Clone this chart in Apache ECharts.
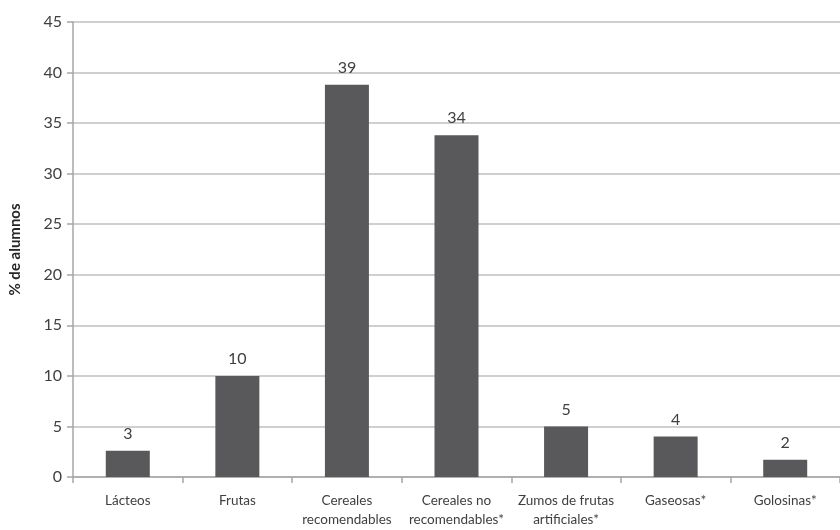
<!DOCTYPE html>
<html>
<head>
<meta charset="utf-8">
<script src="https://cdn.jsdelivr.net/npm/echarts@6/dist/echarts.min.js"></script>
<style>
  html, body { margin: 0; padding: 0; background: #fff; }
  #chart { width: 840px; height: 530px; }
</style>
</head>
<body>
<div id="chart"></div>
<script>
// datos
var categorias = ['Lácteos', 'Frutas', 'Cereales\nrecomendables', 'Cereales no\nrecomendables*', 'Zumos de frutas\nartificiales*', 'Gaseosas*', 'Golosinas*'];
var valores = [2.6, 10, 38.8, 33.8, 5, 4, 1.7];
var etiquetas = ['3', '10', '39', '34', '5', '4', '2'];
var ticksY = [0, 5, 10, 15, 20, 25, 30, 35, 40, 45];

window.onload = function() {
    draw_chart();
}

function draw_chart() {
    var myChart = echarts.init(document.getElementById('chart'));
    var fuente = 'Lato, "Open Sans", sans-serif';
    var option = {
        animation: false,
        grid: { left: 70, top: 22, width: 778, height: 455 },
        xAxis: {
            type: 'category',
            data: categorias,
            axisLine: { lineStyle: { color: '#a6a6a6', width: 1.5 } },
            axisTick: { show: true, length: 6, lineStyle: { color: '#a6a6a6', width: 1.5 } },
            axisLabel: {
                color: '#404040', fontSize: 13.5, fontFamily: fuente,
                margin: 14, lineHeight: 19, interval: 0
            }
        },
        yAxis: {
            type: 'value',
            min: ticksY[0],
            max: ticksY[ticksY.length - 1],
            interval: 5,
            name: '% de alumnos',
            nameLocation: 'middle',
            nameGap: 50,
            nameTextStyle: { color: '#262626', fontSize: 15, fontWeight: 'bold', fontFamily: fuente },
            axisLine: { show: true, lineStyle: { color: '#a6a6a6', width: 1.5 } },
            axisTick: { show: true, length: 6, lineStyle: { color: '#a6a6a6', width: 1.5 } },
            axisLabel: { color: '#404040', fontSize: 16, fontFamily: fuente, margin: 11 },
            splitLine: { lineStyle: { color: '#bfbfbf', width: 1.5 } }
        },
        series: [{
            type: 'bar',
            data: valores,
            barWidth: 44,
            itemStyle: { color: '#59595b' },
            label: {
                show: true,
                position: 'top',
                distance: 9,
                color: '#404040',
                fontSize: 16,
                fontFamily: fuente,
                formatter: function(p) { return etiquetas[p.dataIndex]; }
            }
        }]
    };
    myChart.setOption(option);
}
</script>
</body>
</html>
